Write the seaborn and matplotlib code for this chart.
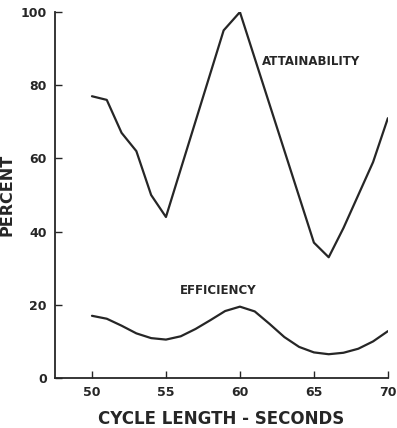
import matplotlib
matplotlib.use("Agg")
import matplotlib.pyplot as plt
import seaborn as sns
import pandas as pd

att_x = [50, 51, 52, 53, 54, 55, 58.9, 60, 65, 66, 67, 68, 69, 70]
att_y = [77, 76, 67, 62, 50, 44, 95, 100, 37, 33, 41, 50, 59, 71]

eff_x = [50, 51, 52, 53, 54, 55, 56, 57, 58, 59, 60, 61, 62, 63, 64, 65, 66, 67, 68, 69, 70]
eff_y = [17, 16.2, 14.3, 12.2, 10.9, 10.5, 11.4, 13.4, 15.8, 18.3, 19.5, 18.2, 14.8, 11.2, 8.5, 7.0, 6.5, 6.9, 8.0, 10.0, 12.8]

x_ticks = [50, 55, 60, 65, 70]
y_ticks = [0, 20, 40, 60, 80, 100]

sns.set_theme(style="white")
plt.rcParams['font.family'] = ['DejaVu Sans']

fig = plt.figure(figsize=(3.97, 4.28), dpi=100)
ax = fig.add_axes([0.1385, 0.1168, 0.8385, 0.855])

col = "#262626"
sns.lineplot(x=att_x, y=att_y, ax=ax, color=col, lw=1.6, sort=False)
sns.lineplot(x=eff_x, y=eff_y, ax=ax, color=col, lw=1.6, sort=False)

ax.set_xlim(47.5, 70)
ax.set_ylim(0, 100)
ax.set_xticks(x_ticks)
ax.set_yticks(y_ticks)
ax.tick_params(direction="in", length=5, width=1, colors=col, labelsize=9, pad=6,
               bottom=True, left=True)
for lab in ax.get_xticklabels() + ax.get_yticklabels():
    lab.set_fontweight("semibold")
for s in ["top", "right"]:
    ax.spines[s].set_visible(False)
for s in ["left", "bottom"]:
    ax.spines[s].set_color(col)
    ax.spines[s].set_linewidth(1.3)

ax.text(61.5, 86.5, "ATTAINABILITY", fontsize=8.5, color=col, va="center", ha="left",
        fontweight="semibold")
ax.text(55.95, 24, "EFFICIENCY", fontsize=8.5, color=col, va="center", ha="left",
        fontweight="semibold")

ax.set_xlabel("CYCLE LENGTH - SECONDS", fontsize=12, color=col, labelpad=8,
              fontweight="semibold")
ax.set_ylabel("PERCENT", fontsize=11.5, color=col, labelpad=4, fontweight="semibold")

fig.savefig("out.png", dpi=100)
